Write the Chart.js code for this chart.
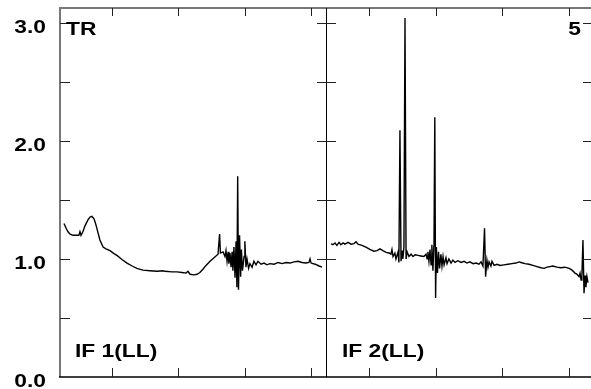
<!DOCTYPE html>
<html>
<head>
<meta charset="utf-8">
<script src="https://cdn.jsdelivr.net/npm/chart.js@4/dist/chart.umd.min.js"></script>
<style>
  html, body { margin: 0; padding: 0; background: #fff; overflow: hidden; }
  #wrap { width: 591px; height: 389px; overflow: hidden; }
</style>
</head>
<body>
<div id="wrap"><canvas id="spec" width="600" height="389"></canvas></div>
<script>
// channel position inside each panel (0..100) and amplitude
var if1Chan = [1.5, 2.3, 3.0, 3.8, 4.9, 6.0, 7.1, 7.5, 7.9, 8.6, 9.4, 10.5, 11.3, 12.0, 12.8, 13.5, 14.3, 15.0, 16.2, 17.3,
  18.8, 20.3, 21.4, 23.3, 25.2, 27.1, 28.9, 31.2, 33.8, 36.5, 38.7, 39.5, 42.1, 44.0, 45.9, 47.4, 48.1, 48.9, 50.4, 51.5,
  52.6, 53.8, 54.9, 56.4, 57.9, 59.4, 60.0, 60.3, 61.3, 62.0, 62.4, 62.8, 63.2, 63.5, 63.9, 64.3, 64.7, 65.0, 65.4, 65.8,
  66.2, 66.5, 66.8, 67.1, 67.5, 67.9, 68.2, 68.6, 69.2, 69.5, 69.9, 70.3, 70.9, 71.4, 72.2, 72.9, 73.7, 74.4, 75.6, 76.7,
  77.8, 78.9, 80.5, 82.0, 83.5, 85.0, 86.5, 88.0, 89.5, 91.0, 92.5, 93.6, 94.0, 94.4, 95.9, 97.4, 98.5];
var if1Amp = [1.30, 1.26, 1.23, 1.21, 1.20, 1.20, 1.20, 1.23, 1.20, 1.23, 1.28, 1.33, 1.355, 1.36, 1.34, 1.29, 1.22, 1.16, 1.10, 1.085,
  1.07, 1.045, 1.03, 0.995, 0.965, 0.94, 0.92, 0.905, 0.90, 0.895, 0.90, 0.895, 0.89, 0.89, 0.885, 0.88, 0.895, 0.87, 0.865, 0.87,
  0.885, 0.915, 0.945, 0.98, 1.01, 1.04, 1.21, 1.05, 1.06, 1.02, 1.07, 0.98, 1.06, 0.96, 1.05, 0.93, 1.06, 0.90, 1.10, 0.84,
  1.15, 0.76, 1.70, 0.74, 1.20, 0.85, 1.08, 0.90, 1.02, 1.15, 0.93, 1.00, 0.92, 0.96, 0.93, 0.98, 0.95, 0.98, 0.955, 0.965,
  0.95, 0.96, 0.955, 0.97, 0.96, 0.97, 0.965, 0.975, 0.98, 0.97, 0.965, 0.97, 1.00, 0.965, 0.955, 0.94, 0.93];

var if2Chan = [1.9, 2.6, 3.4, 4.1, 4.9, 5.6, 6.4, 7.1, 8.3, 9.4, 10.5, 11.3, 12.0, 13.5, 15.0, 16.5, 18.0, 19.2, 20.3, 21.4,
  22.6, 23.7, 24.4, 24.8, 25.2, 25.9, 26.3, 27.1, 27.4, 27.8, 28.2, 28.6, 28.9, 29.3, 29.7, 30.1, 30.5, 31.2, 32.0, 32.7,
  33.5, 34.6, 35.7, 36.8, 37.6, 38.0, 38.3, 38.7, 39.1, 39.5, 39.8, 40.2, 40.6, 40.9, 41.2, 41.5, 41.9, 42.3, 42.7, 43.2,
  43.6, 44.0, 44.4, 45.1, 45.5, 46.2, 47.0, 47.7, 48.5, 49.6, 50.8, 51.9, 53.0, 54.1, 55.3, 56.4, 57.5, 58.3, 59.0, 59.6,
  60.0, 60.5, 60.9, 61.3, 62.0, 62.4, 63.2, 64.3, 65.4, 66.9, 68.4, 69.9, 71.4, 72.6, 73.3, 74.8, 76.3, 77.8, 79.3, 80.8,
  82.0, 83.1, 84.2, 85.3, 86.8, 88.3, 89.8, 91.4, 92.5, 93.6, 94.4, 95.1, 95.5, 95.9, 96.2, 96.6, 97.0, 97.4, 97.7, 98.1, 98.5];
var if2Amp = [1.13, 1.12, 1.135, 1.115, 1.14, 1.12, 1.135, 1.125, 1.14, 1.125, 1.13, 1.145, 1.125, 1.115, 1.10, 1.08, 1.065, 1.07, 1.085, 1.07,
  1.055, 1.05, 1.04, 1.08, 1.02, 1.05, 1.00, 1.06, 0.97, 2.09, 0.98, 1.07, 1.00, 1.10, 3.04, 1.00, 1.06, 1.02, 1.04, 1.02,
  1.035, 1.03, 1.025, 1.02, 1.04, 1.00, 1.06, 0.98, 1.08, 0.95, 1.12, 0.90, 1.13, 2.20, 0.67, 1.10, 0.88, 1.06, 0.92, 1.04,
  0.94, 1.02, 0.95, 1.01, 0.96, 1.00, 0.965, 0.99, 0.97, 0.985, 0.97, 0.98, 0.965, 0.975, 0.96, 0.965, 0.955, 0.975, 0.94, 1.26,
  0.85, 0.99, 0.93, 0.975, 0.94, 0.98, 0.945, 0.955, 0.945, 0.95, 0.955, 0.96, 0.965, 0.975, 0.97, 0.96, 0.955, 0.945, 0.935, 0.925,
  0.92, 0.93, 0.935, 0.94, 0.93, 0.925, 0.93, 0.92, 0.905, 0.88, 0.87, 0.85, 0.88, 0.82, 0.86, 1.16, 0.71, 0.86, 0.76, 0.85, 0.80];

var panelLabels = ["IF 1(LL)", "IF 2(LL)"];
var xTicks1 = [19.5, 44.5, 69.5, 94.5];
var xTicks2 = [16.2, 41.2, 66.2, 91.2];
var yTicks = [0.5, 1.0, 1.5, 2.0, 2.5, 3.0];
var yLabels = [0.0, 1.0, 2.0, 3.0];

function pts(chan, amp, off) {
  return chan.map(function (c, i) { return { x: off + c / 100, y: amp[i] }; });
}

var FONT = 'bold 19px "Liberation Sans", Arial, sans-serif';
function wideText(ctx, txt, x, y, align) {
  ctx.save();
  ctx.font = FONT;
  var w = ctx.measureText(txt).width * 1.2;
  var x0 = align === 'right' ? x - w : x;
  ctx.translate(x0, y);
  ctx.scale(1.2, 1);
  ctx.textAlign = 'left';
  ctx.textBaseline = 'alphabetic';
  ctx.fillText(txt, 0, 0);
  ctx.restore();
}

var frame = {
  id: 'frame',
  afterDatasetsDraw: function (chart) {
    var ctx = chart.ctx, xs = chart.scales.x, ys = chart.scales.y, a = chart.chartArea;
    var mid = xs.getPixelForValue(1);
    ctx.save();
    ctx.lineCap = 'butt';
    // frame
    ctx.strokeStyle = '#777'; ctx.lineWidth = 2;
    ctx.beginPath(); ctx.moveTo(a.left, a.bottom); ctx.lineTo(a.left, a.top); ctx.lineTo(a.right + 2, a.top); ctx.stroke();
    ctx.strokeStyle = '#000'; ctx.lineWidth = 1.5;
    ctx.beginPath(); ctx.moveTo(a.left - 1, a.bottom); ctx.lineTo(a.right + 2, a.bottom); ctx.stroke();
    ctx.lineWidth = 1;
    ctx.beginPath(); ctx.moveTo(Math.round(mid) + 0.5, a.top); ctx.lineTo(Math.round(mid) + 0.5, a.bottom); ctx.stroke();
    // x ticks
    ctx.strokeStyle = '#222'; ctx.lineWidth = 1;
    var xt = xTicks1.map(function (v) { return v / 100; }).concat(xTicks2.map(function (v) { return 1 + v / 100; }));
    xt.forEach(function (v) {
      var px = Math.round(xs.getPixelForValue(v)) + 0.5;
      ctx.beginPath();
      ctx.moveTo(px, a.top); ctx.lineTo(px, a.top + 8);
      ctx.moveTo(px, a.bottom); ctx.lineTo(px, a.bottom - 9);
      ctx.stroke();
    });
    // y ticks
    yTicks.forEach(function (v) {
      var py = Math.round(ys.getPixelForValue(v)) + 0.5;
      ctx.beginPath();
      ctx.moveTo(a.left, py); ctx.lineTo(a.left + 10, py);
      ctx.moveTo(mid - 9, py); ctx.lineTo(mid + 10, py);
      ctx.moveTo(591, py); ctx.lineTo(583, py);
      ctx.stroke();
    });
    // labels
    ctx.fillStyle = '#000';
    yLabels.forEach(function (v) {
      wideText(ctx, v.toFixed(1), 46, ys.getPixelForValue(v) + 10, 'right');
    });
    wideText(ctx, 'TR', a.left + 6, ys.getPixelForValue(3.0) + 12, 'left');
    wideText(ctx, '5', 581, ys.getPixelForValue(3.0) + 12, 'right');
    wideText(ctx, panelLabels[0], a.left + 15, 357, 'left');
    wideText(ctx, panelLabels[1], mid + 16, 357, 'left');
    ctx.restore();
  }
};

new Chart(document.getElementById('spec'), {
  type: 'scatter',
  data: {
    datasets: [
      { label: panelLabels[0], data: pts(if1Chan, if1Amp, 0), showLine: true, borderColor: '#000', borderWidth: 1.4, pointRadius: 0, tension: 0 },
      { label: panelLabels[1], data: pts(if2Chan, if2Amp, 1), showLine: true, borderColor: '#000', borderWidth: 1.4, pointRadius: 0, tension: 0 }
    ]
  },
  options: {
    responsive: false,
    animation: false,
    events: [],
    layout: { padding: { left: 60, top: 8, right: 8, bottom: 12 } },
    plugins: { legend: { display: false }, tooltip: { enabled: false } },
    scales: {
      x: { type: 'linear', min: 0, max: 2, display: false },
      y: { type: 'linear', min: 0, max: 3.125, display: false }
    }
  },
  plugins: [frame]
});
</script>
</body>
</html>
